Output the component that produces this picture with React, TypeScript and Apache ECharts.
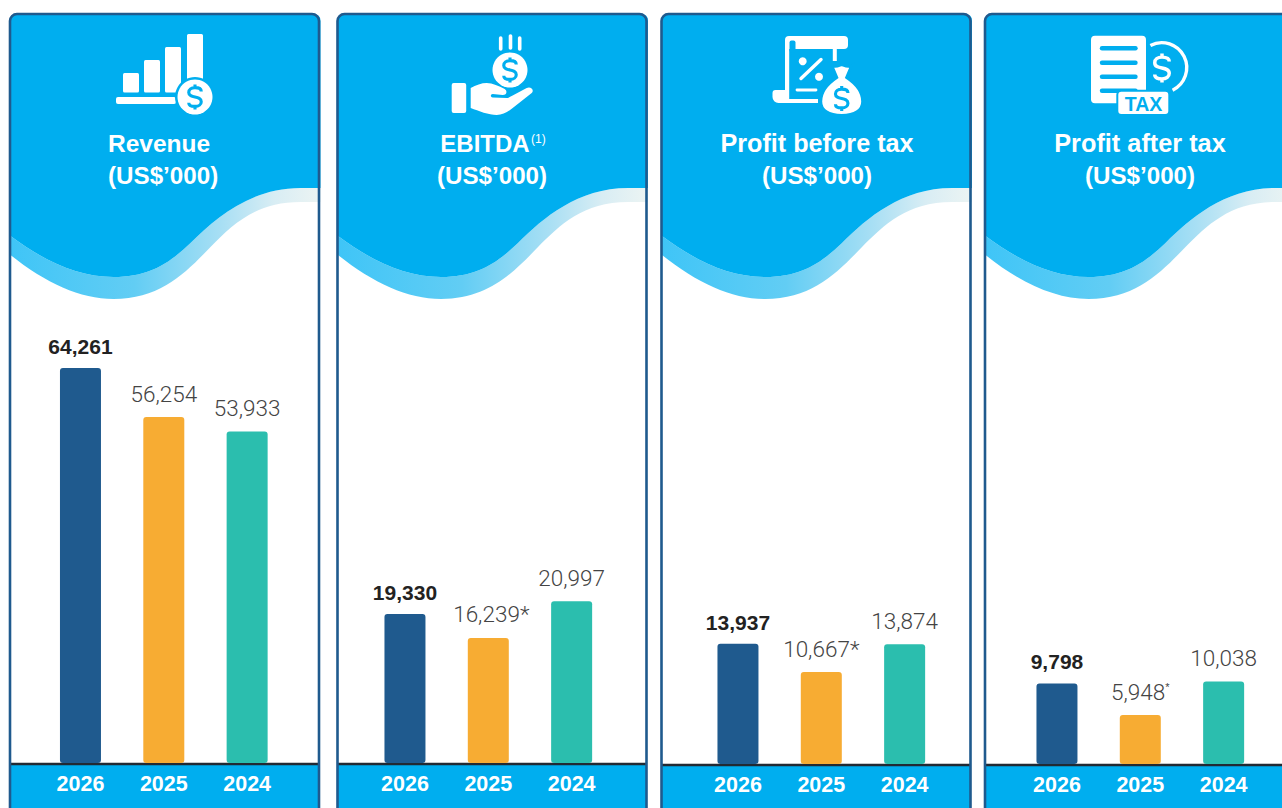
import React, { useEffect, useRef } from "react";
import * as echarts from "echarts";

const years = ["2026", "2025", "2024"];
const revenue = [64261, 56254, 53933];
const ebitda = [19330, 16239, 20997];
const profitBeforeTax = [13937, 10667, 13874];
const profitAfterTax = [9798, 5948, 10038];
const noMarks = ["", "", ""];
const ebitdaMarks = ["", "*", ""];
const pbtMarks = ["", "*", ""];
const patMarks = ["", "sup", ""];
const unitLabel = "(US$’000)";

const NAVY = "#1f5a8e";
const SKY = "#00aeef";
const barColors = ["#1f5a8e", "#f7ac33", "#2bbeae"];
const FONT = "'Liberation Sans', Arial, sans-serif";

const panels = [
  { name: "Revenue", values: revenue, marks: noMarks, x: 10, gridLeft: 38.8, max: 75300, base: 763, titleX: 108, unitX: 108, align: "left", titleSize: 24.5, labelShift: 0 },
  { name: "EBITDA", values: ebitda, marks: ebitdaMarks, x: 337.5, gridLeft: 363.3, max: 60100, base: 763, titleX: 485, unitX: 492, align: "center", titleSize: 24, labelShift: 3 },
  { name: "Profit before tax", values: profitBeforeTax, marks: pbtMarks, x: 661.5, gridLeft: 696.3, max: 53800, base: 764, titleX: 817, unitX: 817, align: "center", titleSize: 25.2, labelShift: 0 },
  { name: "Profit after tax", values: profitAfterTax, marks: patMarks, x: 985, gridLeft: 1015.3, max: 56400, base: 764, titleX: 1140, unitX: 1140, align: "center", titleSize: 25.3, labelShift: 0 },
];

const head = "M0,21 Q0,14 7,14 L303,14 Q310,14 310,21 L310,188 L290,188 C240,188 205,218 180,243 C160,262 140,277 103,277 C68,277 35,262 0,236 Z";
const band = "M0,236 C35,262 68,277 103,277 C140,277 160,262 180,243 C205,218 240,188 290,188 L310,188 L310,202 L290,202 C245,202 222,225 200,247 C175,273 150,299 103,299 C70,299 35,283 0,255 Z";
const dollar = "M5,-4.5 C5,-7 2.5,-7.5 0,-7.5 C-3,-7.5 -5,-6 -5,-3.7 C-5,-1 -2.5,-0.5 0,0 C2.5,0.5 5,1 5,3.7 C5,6 3,7.5 0,7.5 C-2.5,7.5 -5,7 -5,4.5 M0,-10 L0,-7.5 M0,7.5 L0,10";
const hand = "M0,5 C5,2 11,0 16,0 C22,0 28,3 34,6 C37,8 36,12 32,12 L22,11 C20,11 19,14 22,14.5 L36,15 C38,15 39,14 41,13 L56,5 C60,3 64,7 61,10 L42,25 C37,29 32,32 26,32 C18,32 8,28 0,25 Z";
const bag = "M-10,-33 C-6,-31 -3,-33 0,-34 C3,-33 6,-31 10,-33 L5,-21 C14,-15 21,-7 21,3 C21,12 13,17 0,17 C-13,17 -21,12 -21,3 C-21,-7 -14,-15 -5,-21 Z";

echarts.graphic.registerShape("waveHead", echarts.graphic.extendPath(head, {}));
echarts.graphic.registerShape("waveBand", echarts.graphic.extendPath(band, {}));
echarts.graphic.registerShape("dollarSign", echarts.graphic.extendPath(dollar, {}));
echarts.graphic.registerShape("handShape", echarts.graphic.extendPath(hand, {}));
echarts.graphic.registerShape("bagShape", echarts.graphic.extendPath(bag, {}));

const rect = (x: number, y: number, w: number, h: number, r: any, fill: string, z = 3) => ({
  type: "rect", z, shape: { x, y, width: w, height: h, r }, style: { fill },
});
const circle = (cx: number, cy: number, r: number, fill: string, z = 3) => ({
  type: "circle", z, shape: { cx, cy, r }, style: { fill },
});
const seg = (x1: number, y1: number, x2: number, y2: number, w: number, stroke: string, z = 3) => ({
  type: "line", z, shape: { x1, y1, x2, y2 }, style: { stroke, lineWidth: w, lineCap: "round" },
});
const sign = (x: number, y: number, k: number, stroke: string, w: number, z = 4) => ({
  type: "dollarSign", z, x, y, scaleX: k, scaleY: k, style: { fill: "none", stroke, lineWidth: w },
});

function icons(): any[] {
  return [
    // Revenue
    rect(123, 73, 16, 19.5, 1.5, "#fff"),
    rect(144, 60, 16, 32.5, 1.5, "#fff"),
    rect(165, 47, 16, 45.5, 1.5, "#fff"),
    rect(187, 34, 16, 50, 1.5, "#fff"),
    rect(116, 97, 60, 7, 2, "#fff"),
    circle(195, 97, 20, SKY),
    circle(195, 97, 17.5, "#fff"),
    sign(195, 97, 1.25, SKY, 2.5),
    // EBITDA
    seg(500.7, 38, 500.7, 49, 3.6, "#fff"),
    seg(510.5, 36, 510.5, 48, 3.6, "#fff"),
    seg(519.7, 38, 519.7, 49, 3.6, "#fff"),
    circle(510, 70, 17.5, "#fff"),
    sign(510, 70, 1.25, SKY, 2.5),
    rect(451.7, 83, 14.5, 30, 2, "#fff"),
    { type: "handShape", z: 3, x: 470.7, y: 83, style: { fill: "#fff" } },
    // Profit before tax
    rect(785, 36, 63, 13, 4, "#fff"),
    rect(785, 40, 4.2, 62, 0, "#fff"),
    rect(789.5, 40.5, 6, 12, 2, SKY),
    rect(772.5, 90, 14, 13, [3, 0, 0, 6], "#fff"),
    rect(780, 99, 38, 4, 0, "#fff"),
    rect(832.8, 49, 4, 12, 0, "#fff"),
    circle(802.7, 61.3, 4, "#fff"),
    circle(819, 76.7, 4, "#fff"),
    seg(821, 59.5, 801, 78.5, 3.4, "#fff"),
    seg(797, 90, 816, 90, 2.8, "#fff"),
    { type: "bagShape", z: 4, x: 841.7, y: 98.5, style: { fill: "#fff", stroke: SKY, lineWidth: 3 } },
    sign(841.7, 98.5, 1.25, SKY, 2.5, 5),
    // Profit after tax
    rect(1091, 35.7, 55, 67.6, 4, "#fff"),
    seg(1102, 48.3, 1135.5, 48.3, 4.4, SKY),
    seg(1102, 62.7, 1135.5, 62.7, 4.4, SKY),
    seg(1102, 76.7, 1135.5, 76.7, 4.4, SKY),
    seg(1102, 90.7, 1135.5, 90.7, 4.4, SKY),
    { type: "rect", z: 4, shape: { x: 1117.3, y: 90.7, width: 52, height: 24.3, r: 4 }, style: { fill: "#fff", stroke: SKY, lineWidth: 2 } },
    { type: "text", z: 5, x: 1143.5, y: 103.5, style: { text: "TAX", fill: SKY, fontSize: 19.5, fontWeight: "bold", fontFamily: FONT, textAlign: "center", textVerticalAlign: "middle" } },
    { type: "arc", z: 3, shape: { cx: 1161.7, cy: 67.7, r: 25, startAngle: -2.04, endAngle: 1.12, clockwise: true }, style: { fill: "none", stroke: "#fff", lineWidth: 3.4 } },
    sign(1162, 68, 1.45, "#fff", 2.4),
  ];
}

function panelGraphics(): any[] {
  const out: any[] = [];
  panels.forEach((p, i) => {
    out.push({ type: "rect", z: 0, shape: { x: p.x, y: 14, width: 309, height: 830, r: 7 }, style: { fill: "#fff" } });
    out.push({
      type: "waveBand", z: 1, x: p.x + 0.5, y: 0,
      style: {
        fill: new echarts.graphic.LinearGradient(0, 0, 1, 0, [
          { offset: 0, color: "#3fc5f7" },
          { offset: 0.4, color: "#62cdf4" },
          { offset: 0.68, color: "#a8dff4" },
          { offset: 0.85, color: "#d8edf4" },
          { offset: 1, color: "#ecf4f3" },
        ]),
      },
    });
    out.push({ type: "waveHead", z: 1, x: p.x + 0.5, y: 0, style: { fill: SKY } });
    out.push({ type: "rect", z: 1, shape: { x: p.x, y: p.base + 1, width: 309, height: 60 }, style: { fill: SKY } });
    out.push({ type: "line", z: 2, shape: { x1: p.x, y1: p.base + 1, x2: p.x + 309, y2: p.base + 1 }, style: { stroke: "#222a33", lineWidth: 2.4 } });
    out.push({ type: "rect", z: 2, shape: { x: p.x, y: 14, width: 309, height: 830, r: 7 }, style: { fill: "none", stroke: NAVY, lineWidth: 2.6 } });
    out.push({
      type: "text", z: 3, x: p.titleX, y: 143,
      style: { text: p.name, fill: "#fff", fontSize: p.titleSize, fontWeight: "bold", fontFamily: FONT, textAlign: p.align, textVerticalAlign: "middle" },
    });
    out.push({
      type: "text", z: 3, x: p.unitX, y: 175,
      style: { text: unitLabel, fill: "#fff", fontSize: 24.2, fontWeight: "bold", fontFamily: FONT, textAlign: p.align, textVerticalAlign: "middle" },
    });
    if (i === 1) {
      out.push({ type: "text", z: 3, x: 531, y: 139, style: { text: "(1)", fill: "#fff", fontSize: 12, fontFamily: FONT, textVerticalAlign: "middle" } });
    }
  });
  return out.concat(icons());
}

function buildOption(): any {
  const grid = panels.map((p) => ({ left: p.gridLeft, width: 250, top: 300, height: p.base - 300, containLabel: false }));
  const xAxis = panels.map((_, i) => ({
    type: "category", gridIndex: i, data: years, z: 6,
    axisLine: { show: false }, axisTick: { show: false }, splitLine: { show: false },
    axisLabel: { color: "#fff", fontSize: 21.5, fontWeight: "bold", fontFamily: FONT, margin: 10 },
  }));
  const yAxis = panels.map((p, i) => ({ type: "value", gridIndex: i, min: 0, max: p.max, show: false, splitLine: { show: false } }));
  const series = panels.map((p, i) => ({
    type: "bar", xAxisIndex: i, yAxisIndex: i, z: 4, barWidth: 41,
    data: p.values.map((v, j) => ({
      value: v,
      itemStyle: { color: barColors[j], borderRadius: 3 },
      label: {
        show: true, position: "top", distance: j === 0 ? 11 : 12,
        offset: [p.marks[j] === "*" ? p.labelShift : 0, 0],
        formatter: () => {
          const txt = v.toLocaleString("en-US");
          if (j === 0) return `{b|${txt}}`;
          const m = p.marks[j];
          if (m === "*") return `{n|${txt}*}`;
          if (m === "sup") return `{n|${txt}}{s|*}`;
          return `{n|${txt}}`;
        },
        rich: {
          b: { fontSize: 21, fontWeight: "bold", color: "#222", fontFamily: FONT },
          n: { fontSize: 22.5, fontWeight: 300, color: "#444", fontFamily: "Roboto, " + FONT },
          s: { fontSize: 11, color: "#444", fontFamily: FONT, padding: [0, 0, 10, 0] },
        },
      },
    })),
  }));
  return { animation: false, backgroundColor: "#fff", grid, xAxis, yAxis, series, graphic: { elements: panelGraphics() } };
}

export default function App() {
  const ref = useRef<HTMLDivElement>(null);
  useEffect(() => {
    const chart = echarts.init(ref.current!, undefined, { renderer: "svg" });
    chart.setOption(buildOption());
    return () => chart.dispose();
  }, []);
  return <div ref={ref} style={{ position: "fixed", left: 0, top: 0, width: 1282, height: 808 }} />;
}
